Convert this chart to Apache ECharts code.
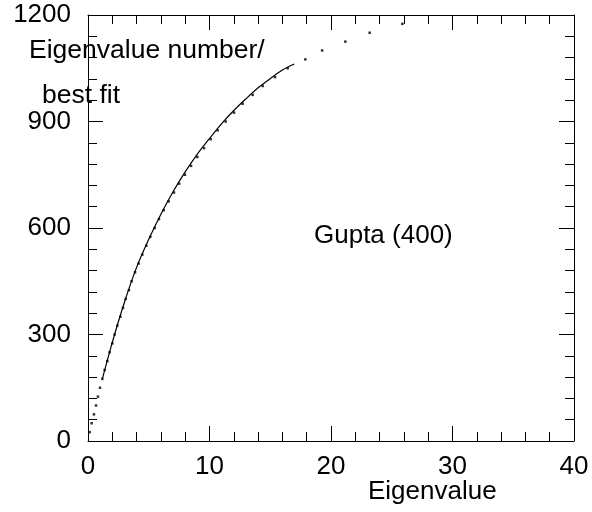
<!DOCTYPE html>
<html>
<head>
<meta charset="utf-8">
<script src="https://cdn.jsdelivr.net/npm/echarts@6/dist/echarts.min.js"></script>
<style>html,body{margin:0;padding:0;background:#fff}#c{width:592px;height:512px}</style>
</head>
<body>
<div id="c"></div>
<script>
// Eigenvalue (x) of every 25th eigenvalue number (y)
const dotEigenvalues = [0.14,0.30,0.49,0.66,0.82,0.99,1.18,1.37,1.59,1.78,2.00,2.19,2.41,2.66,2.88,3.10,3.37,3.59,3.87,4.17,4.47,4.80,5.13,5.49,5.84,6.23,6.64,7.08,7.50,7.98,8.48,9.00,9.55,10.10,10.67,11.33,12.02,12.73,13.55,14.38,15.39,16.43,17.89,19.27,21.18,23.18,25.87];
const dotNumbers = [25,50,75,100,125,150,175,200,225,250,275,300,325,350,375,400,425,450,475,500,525,550,575,600,625,650,675,700,725,750,775,800,825,850,875,900,925,950,975,1000,1025,1050,1075,1100,1125,1150,1175];
// best fit curve
const fitX = [1.18,2,3,4,5,6,7,8,9,10,11,12,13,14,15,16,16.98];
const fitY = [175,278,391,489,568,639,702,758,808,852,894,931,964,995,1021,1045,1062];
const xTicks = [0,10,20,30,40];
const yTicks = [0,300,600,900,1200];

const FONT = 'Liberation Sans';
const chart = echarts.init(document.getElementById('c'));
const lineStyle = {color:'#000', width:1};
function axisBase(extra){
  return Object.assign({
    type:'value',
    axisLine:{show:true, onZero:false, lineStyle},
    axisTick:{show:true, inside:true, length:15, lineStyle},
    minorTick:{show:true, splitNumber:5, length:9, lineStyle},
    splitLine:{show:false},
  }, extra);
}
const fmt = v => String(v);
chart.setOption({
  animation:false,
  backgroundColor:'#fff',
  grid:{left:88, right:18, top:15, bottom:71, containLabel:false},
  xAxis:[
    axisBase({position:'bottom', min:xTicks[0], max:xTicks[xTicks.length-1], interval:10,
      axisLabel:{show:true, margin:13, fontFamily:FONT, fontSize:26, color:'#000', formatter:fmt}}),
    axisBase({position:'top', min:xTicks[0], max:xTicks[xTicks.length-1], interval:10,
      axisLabel:{show:false}})
  ],
  yAxis:[
    axisBase({position:'left', min:yTicks[0], max:yTicks[yTicks.length-1], interval:300,
      axisLabel:{show:true, margin:17, fontFamily:FONT, fontSize:26, color:'#000', padding:[8,0,0,0], formatter:fmt}}),
    axisBase({position:'right', min:yTicks[0], max:yTicks[yTicks.length-1], interval:300,
      axisLabel:{show:false}})
  ],
  series:[
    {type:'scatter', xAxisIndex:0, yAxisIndex:0, symbol:'rect', symbolSize:2.5,
      itemStyle:{color:'#000'}, data: dotEigenvalues.map((x,i)=>[x, dotNumbers[i]])},
    {type:'line', xAxisIndex:0, yAxisIndex:0, smooth:0.3, showSymbol:false,
      lineStyle:{color:'#000', width:1.2}, data: fitX.map((x,i)=>[x, fitY[i]])}
  ],
  graphic:[
    {type:'text', left:29, top:37, style:{text:'Eigenvalue number/', font:'26.5px "Liberation Sans"', fill:'#000'}},
    {type:'text', left:42, top:82, style:{text:'best fit', font:'26.5px "Liberation Sans"', fill:'#000'}},
    {type:'text', left:314, top:223, style:{text:'Gupta (400)', font:'26px "Liberation Sans"', fill:'#000'}},
    {type:'text', left:368, top:479, style:{text:'Eigenvalue', font:'26px "Liberation Sans"', fill:'#000'}}
  ]
});
</script>
</body>
</html>
